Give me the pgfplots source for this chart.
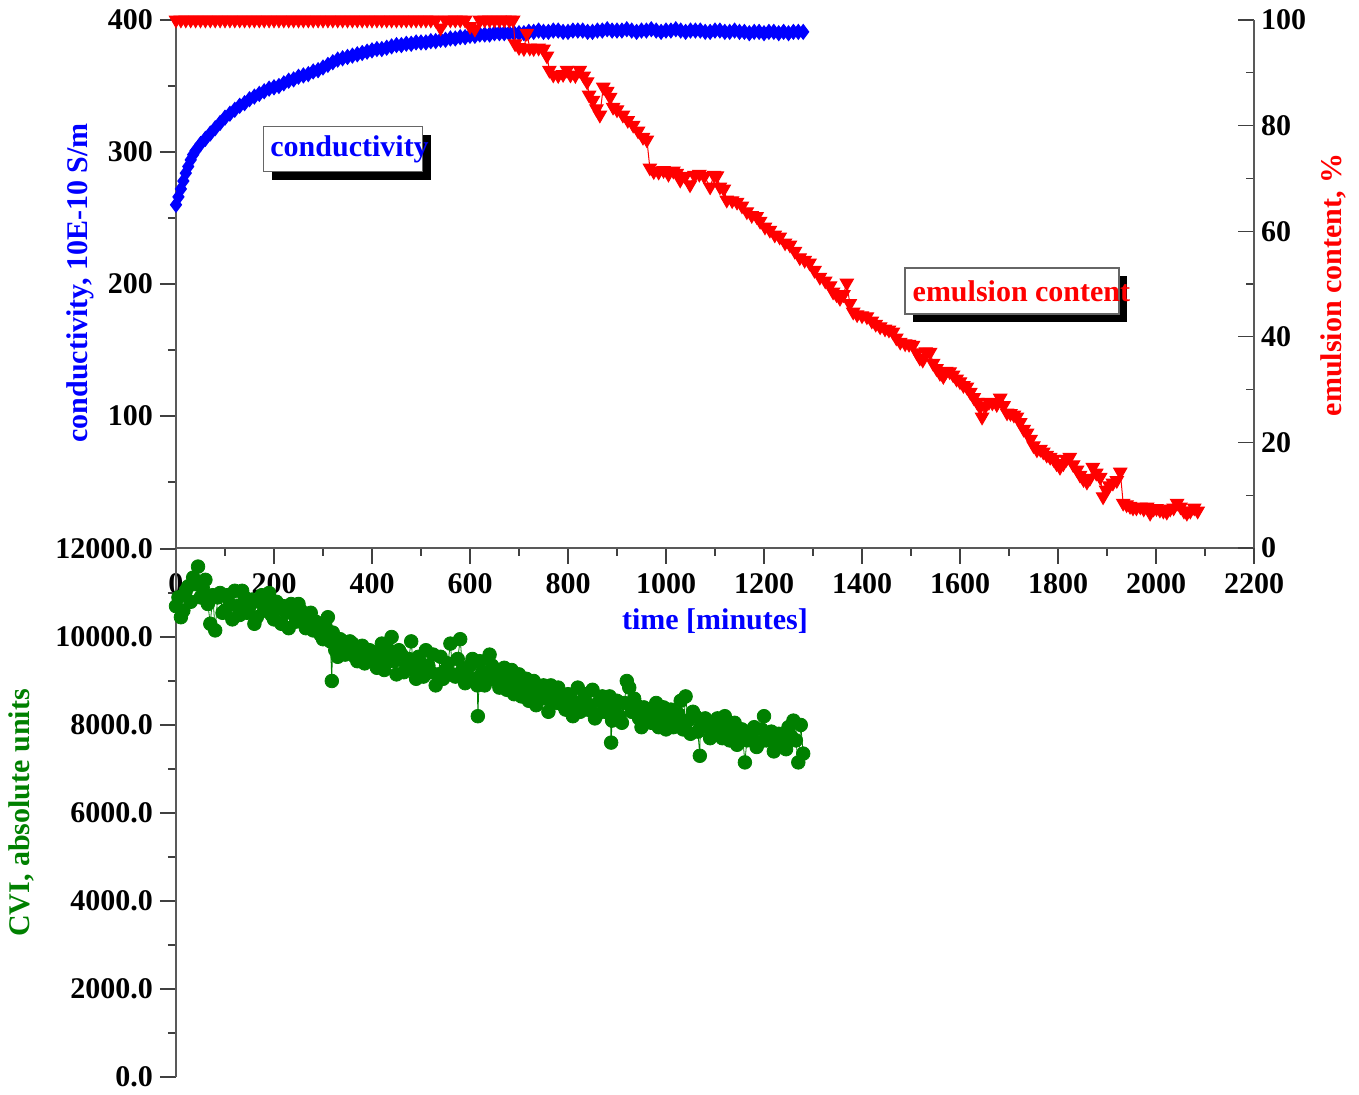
\documentclass[border=0pt]{standalone}
\usepackage{fontspec}
\setmainfont{Liberation Serif}
\usepackage{pgfplots}
\pgfplotsset{compat=1.18}
\definecolor{cblue}{RGB}{0,0,255}
\definecolor{cred}{RGB}{255,0,0}
\definecolor{cgreen}{RGB}{0,128,0}
\newcommand{\ff}{\fontsize{15}{18}\selectfont\bfseries}
\pgfplotsset{every axis/.append style={
  scale only axis, width=539pt, height=264pt, xmin=0, xmax=2200,
  clip=false,
  axis line style={black!65, line width=0.6pt},
  tick style={black!75, line width=0.6pt},
  major tick length=8pt, minor tick length=4pt,
  ticklabel style={font=\ff},
  /pgf/number format/assume math mode=true,
  /pgf/number format/1000 sep={},
}}
\begin{document}
\begin{tikzpicture}
% ---------------- top axis: conductivity ----------------
\begin{axis}[
  axis x line*=bottom, axis y line*=left,
  ymin=0, ymax=400,
  xtick={0,200,...,2200}, minor xtick={100,300,...,2100},
  ytick={100,200,300,400}, minor ytick={50,150,250,350},
  tick align=outside,
  xticklabel style={yshift=-1pt},
]
\addplot[cblue, line width=0.5pt, mark=diamond*, mark size=3.7pt, mark options={solid, fill=cblue, draw=cblue}] coordinates {
(0,260)(5,266)(10,272)(15,278)(20,284)(25,289)(30,294)(35,298)(40,301)(50,306)
(60,310)(70,314)(80,318)(90,322)(100,326)(110,329)(120,332)(130,335)(140,337)(150,340)
(160,342)(170,344)(180,346)(190,348)(200,349)(210,350)(220,352)(230,354)(240,355)(250,357)
(260,358)(270,359)(280,361)(290,362)(300,364)(310,366)(320,368)(330,370)(340,371)(350,372)
(360,373)(370,374)(380,375)(390,376)(400,377)(410,378)(420,378)(430,379)(440,380)(450,381)
(460,381)(470,382)(480,382)(490,383)(500,383)(510,383)(520,384)(530,384)(540,385)(550,385)
(560,386)(570,386)(580,387)(590,387)(600,388)(610,388)(620,389)(630,389)(640,389)(650,390)
(660,390)(670,390)(680,390)(690,390)(700,390)(710,390)(720,391)(730,391)(740,392)(750,391)
(760,391)(770,392)(780,392)(790,391)(800,391)(810,392)(820,392)(830,392)(840,391)(850,391)
(860,392)(870,392)(880,393)(890,392)(900,392)(910,392)(920,393)(930,392)(940,391)(950,392)
(960,392)(970,393)(980,392)(990,391)(1000,392)(1010,392)(1020,393)(1030,392)(1040,391)(1050,392)
(1060,392)(1070,392)(1080,391)(1090,391)(1100,392)(1110,392)(1120,391)(1130,391)(1140,392)(1150,391)
(1160,391)(1170,390)(1180,391)(1190,391)(1200,390)(1210,391)(1220,391)(1230,390)(1240,391)(1250,390)
(1260,391)(1270,391)(1280,391)
};
\node[rotate=90, text=cblue, font=\ff] at (axis description cs:-0.089,0.502) {conductivity, 10E-10 S/m};
\node[text=cblue, font=\ff, yshift=-36.5pt] at (axis description cs:0.5,0) {time [minutes]};
\end{axis}
% ---------------- top axis: emulsion content ----------------
\begin{axis}[
  axis x line=none, axis y line*=right,
  ymin=0, ymax=100,
  ytick={0,20,...,100}, minor ytick={10,30,...,90},
  tick align=inside,
]
\addplot[cred, line width=0.5pt, mark=triangle*, mark size=3.8pt, mark options={solid, rotate=180, fill=cred, draw=cred}] coordinates {
(0,100)(10,100)(20,100)(30,100)(40,100)(50,100)(60,100)(70,100)(80,100)(90,100)
(100,100)(110,100)(120,100)(130,100)(140,100)(150,100)(160,100)(170,100)(180,100)(190,100)
(200,100)(210,100)(220,100)(230,100)(240,100)(250,100)(260,100)(270,100)(280,100)(290,100)
(300,100)(310,100)(320,100)(330,100)(340,100)(350,100)(360,100)(370,100)(380,100)(390,100)
(400,100)(410,100)(420,100)(430,100)(440,100)(450,100)(460,100)(470,100)(480,100)(490,100)
(500,100)(510,100)(520,100)(530,100)(540,98.5)(550,100)(560,100)(570,100)(580,100)(590,100)
(600,98.8)(610,98.3)(620,100)(630,100)(640,100)(650,100)(660,100)(670,100)(680,100)(688,100)
(692,95.5)(700,94.8)(710,94.6)(716,97.5)(722,94.7)(730,94.6)(740,94.7)(750,94.5)(757,93.2)(762,90.5)
(770,89.6)(780,89.5)(790,89.7)(798,90.5)(805,89.6)(815,89.5)(824,90.5)(832,89.4)(839,88.3)(843,85.8)
(851,84.8)(858,83.2)(865,82.0)(872,87.3)(880,86.5)(886,85.4)(892,83.5)(900,83.0)(912,82.0)(922,81.0)
(933,80.1)(943,79.0)(953,77.8)(961,77.3)(967,72.0)(975,71.3)(985,71.2)(995,71.5)(1005,70.8)(1015,71.4)
(1022,71.0)(1029,69.7)(1039,70.4)(1049,68.8)(1058,70.6)(1068,70.8)(1078,70.4)(1090,68.4)(1098,70.6)(1104,70.5)
(1110,68.4)(1118,68.0)(1124,65.9)(1135,65.8)(1145,65.5)(1155,64.8)(1165,63.7)(1175,63.0)(1185,62.8)(1192,61.9)
(1202,60.8)(1212,60.2)(1222,59.3)(1232,58.9)(1243,57.8)(1253,57.4)(1263,56.2)(1273,55.0)(1283,54.5)(1293,54.0)
(1303,52.6)(1314,51.3)(1325,50.6)(1335,49.7)(1341,48.5)(1348,48.0)(1355,47.3)(1362,48.0)(1369,50.2)(1375,46.3)
(1382,44.7)(1390,44.2)(1400,44.0)(1410,43.8)(1420,43.0)(1428,42.4)(1437,41.9)(1447,41.5)(1455,41.3)(1463,40.9)
(1470,39.8)(1478,39.0)(1488,38.7)(1496,38.6)(1504,38.4)(1512,37.0)(1518,36.0)(1524,35.6)(1530,37.2)(1539,37.1)
(1545,35.0)(1552,34.0)(1559,33.1)(1566,32.5)(1572,33.5)(1579,33.4)(1586,32.8)(1593,32.0)(1600,31.5)(1607,30.8)
(1614,30.5)(1621,29.5)(1628,28.5)(1635,27.6)(1641,26.7)(1645,24.8)(1652,26.9)(1659,27.6)(1666,27.5)(1675,27.2)
(1682,28.4)(1689,27.0)(1696,25.6)(1703,25.5)(1710,25.2)(1716,24.8)(1723,23.8)(1730,22.5)(1737,21.8)(1744,20.6)
(1750,19.4)(1757,18.6)(1764,18.7)(1770,18.2)(1777,17.6)(1784,17.2)(1791,16.8)(1797,16.0)(1804,15.3)(1811,16.0)
(1817,16.8)(1824,17.2)(1831,15.8)(1839,14.8)(1845,13.8)(1852,13.0)(1859,12.5)(1865,13.2)(1871,15.3)(1878,14.2)
(1886,13.4)(1892,9.7)(1898,11.0)(1905,11.8)(1912,12.3)(1920,12.8)(1927,14.4)(1933,8.5)(1940,8.2)(1947,7.9)
(1953,7.6)(1960,7.6)(1968,7.8)(1975,7.4)(1982,7.8)(1988,6.6)(1995,7.4)(2001,7.5)(2008,7.2)(2015,7.0)
(2022,6.8)(2029,7.4)(2036,7.6)(2043,8.5)(2050,7.8)(2057,7.0)(2063,6.6)(2070,7.0)(2078,7.6)(2085,7.0)
};
\node[rotate=90, text=cred, font=\ff] at (axis description cs:1.0733,0.498) {emulsion content, \%};
% text boxes
\node[fill=black, minimum width=79.5pt, minimum height=22.5pt, inner sep=0pt, xshift=4pt, yshift=-4pt] at (axis description cs:0.155,0.755) {};
\node[fill=white, draw=black!60, line width=0.6pt, minimum width=79.5pt, minimum height=22.5pt, inner sep=0pt] at (axis description cs:0.155,0.755) {};
\node[text=cblue, font=\ff, anchor=west, inner sep=0pt] at (axis description cs:0.0872,0.755) {conductivity};
\node[fill=black, minimum width=107pt, minimum height=23pt, inner sep=0pt, xshift=4pt, yshift=-4pt] at (axis description cs:0.7755,0.4866) {};
\node[fill=white, draw=black!60, line width=0.6pt, minimum width=107pt, minimum height=23pt, inner sep=0pt] at (axis description cs:0.7755,0.4866) {};
\node[text=cred, font=\ff, anchor=west, inner sep=0pt] at (axis description cs:0.683,0.486) {emulsion content};
\end{axis}
% ---------------- lower axis: CVI ----------------
\begin{axis}[
  at={(0,-264.5pt)},
  axis x line=none, axis y line*=left,
  ymin=0, ymax=12000,
  ytick={0,2000,...,12000}, minor ytick={1000,3000,...,11000},
  tick align=outside,
  scaled y ticks=false,
  yticklabel style={/pgf/number format/.cd, fixed, fixed zerofill, precision=1, 1000 sep={}},
]
\addplot[cgreen, line width=0.4pt, mark=*, mark size=3.4pt, mark options={solid, fill=cgreen, draw=cgreen}] coordinates {
(0,10700)(5,10900)(10,10450)(15,10600)(20,11050)(25,11150)(30,10800)(35,11350)(40,11200)(45,11600)
(50,10900)(55,11100)(60,11300)(65,10750)(70,10300)(75,10950)(80,10150)(85,10900)(90,11000)(95,10550)
(100,10600)(105,10950)(110,10750)(115,10400)(120,11050)(125,10700)(130,10500)(135,11050)(140,10900)(145,10550)
(150,10700)(155,10850)(160,10300)(165,10450)(170,10800)(175,10950)(180,10600)(185,10750)(190,11000)(195,10500)
(200,10400)(205,10800)(210,10650)(215,10300)(220,10700)(225,10550)(230,10200)(235,10750)(240,10550)(245,10350)
(250,10750)(255,10600)(260,10350)(265,10200)(270,10450)(275,10550)(280,10150)(285,10350)(290,10300)(295,10050)
(300,9950)(305,10250)(310,10450)(315,9900)(318,9000)(320,10100)(325,9700)(330,9550)(335,9950)(340,9900)
(345,9600)(350,9700)(355,9900)(360,9850)(365,9550)(370,9450)(375,9750)(380,9800)(385,9400)(390,9550)
(395,9700)(400,9650)(405,9500)(410,9300)(415,9600)(420,9850)(425,9250)(430,9500)(435,9700)(440,10000)
(445,9450)(450,9150)(455,9700)(460,9600)(465,9200)(470,9350)(475,9500)(480,9900)(485,9250)(490,9050)
(495,9550)(500,9400)(505,9100)(510,9700)(515,9350)(520,9200)(525,9600)(530,8900)(535,9150)(540,9550)
(545,9050)(550,9250)(555,9400)(560,9850)(565,9150)(570,9100)(575,9500)(580,9950)(585,9250)(590,8950)
(595,9100)(600,9350)(605,9500)(610,9050)(615,8900)(616,8200)(620,9450)(625,9200)(630,8900)(635,9050)
(640,9600)(645,9350)(650,9250)(655,9000)(660,8850)(665,9200)(670,9300)(675,8800)(680,9050)(685,9250)
(690,8700)(695,8950)(700,9150)(705,8650)(710,8800)(715,9050)(720,8550)(725,8800)(730,9000)(735,8450)
(740,8650)(745,8850)(750,8900)(755,8600)(760,8300)(765,8900)(770,8750)(775,8500)(780,8850)(785,8700)
(790,8450)(795,8350)(800,8700)(805,8650)(810,8200)(815,8500)(820,8850)(825,8300)(830,8550)(835,8700)
(840,8350)(845,8450)(850,8800)(855,8150)(860,8250)(865,8550)(870,8650)(875,8300)(880,8450)(885,8650)
(888,7600)(890,8100)(895,8350)(900,8550)(905,8200)(910,8050)(915,8500)(920,9000)(925,8850)(930,8300)
(935,8600)(940,8450)(945,8150)(950,7950)(955,8400)(960,8350)(965,8100)(970,8050)(975,8250)(980,8500)
(985,7950)(990,8200)(995,8400)(1000,7900)(1005,8150)(1010,8350)(1015,7950)(1020,8050)(1025,8250)(1030,8550)
(1035,7900)(1040,8650)(1045,8100)(1050,7800)(1055,8300)(1060,8200)(1065,7850)(1069,7300)(1070,7950)(1075,8050)
(1080,8150)(1085,7950)(1090,7700)(1095,7800)(1100,8000)(1105,8150)(1110,7850)(1115,7700)(1120,8200)(1125,7950)
(1130,7650)(1135,7800)(1140,8050)(1145,7550)(1150,7800)(1155,7900)(1161,7150)(1165,7650)(1170,7700)(1175,7800)
(1180,7950)(1185,7500)(1190,7600)(1195,7900)(1200,8200)(1205,7650)(1210,7750)(1215,7850)(1220,7400)(1225,7600)
(1230,7800)(1235,7700)(1240,7500)(1245,7450)(1250,7950)(1255,7750)(1260,8100)(1265,7650)(1270,7150)(1275,8000)
(1280,7350)
};
\node[rotate=90, text=cgreen, font=\ff] at (axis description cs:-0.143,0.5) {CVI, absolute units};
\end{axis}
\pgfresetboundingbox
\path[use as bounding box] (-88pt,-273.5pt) rectangle (591.5pt,274pt);
\end{tikzpicture}
\end{document}
